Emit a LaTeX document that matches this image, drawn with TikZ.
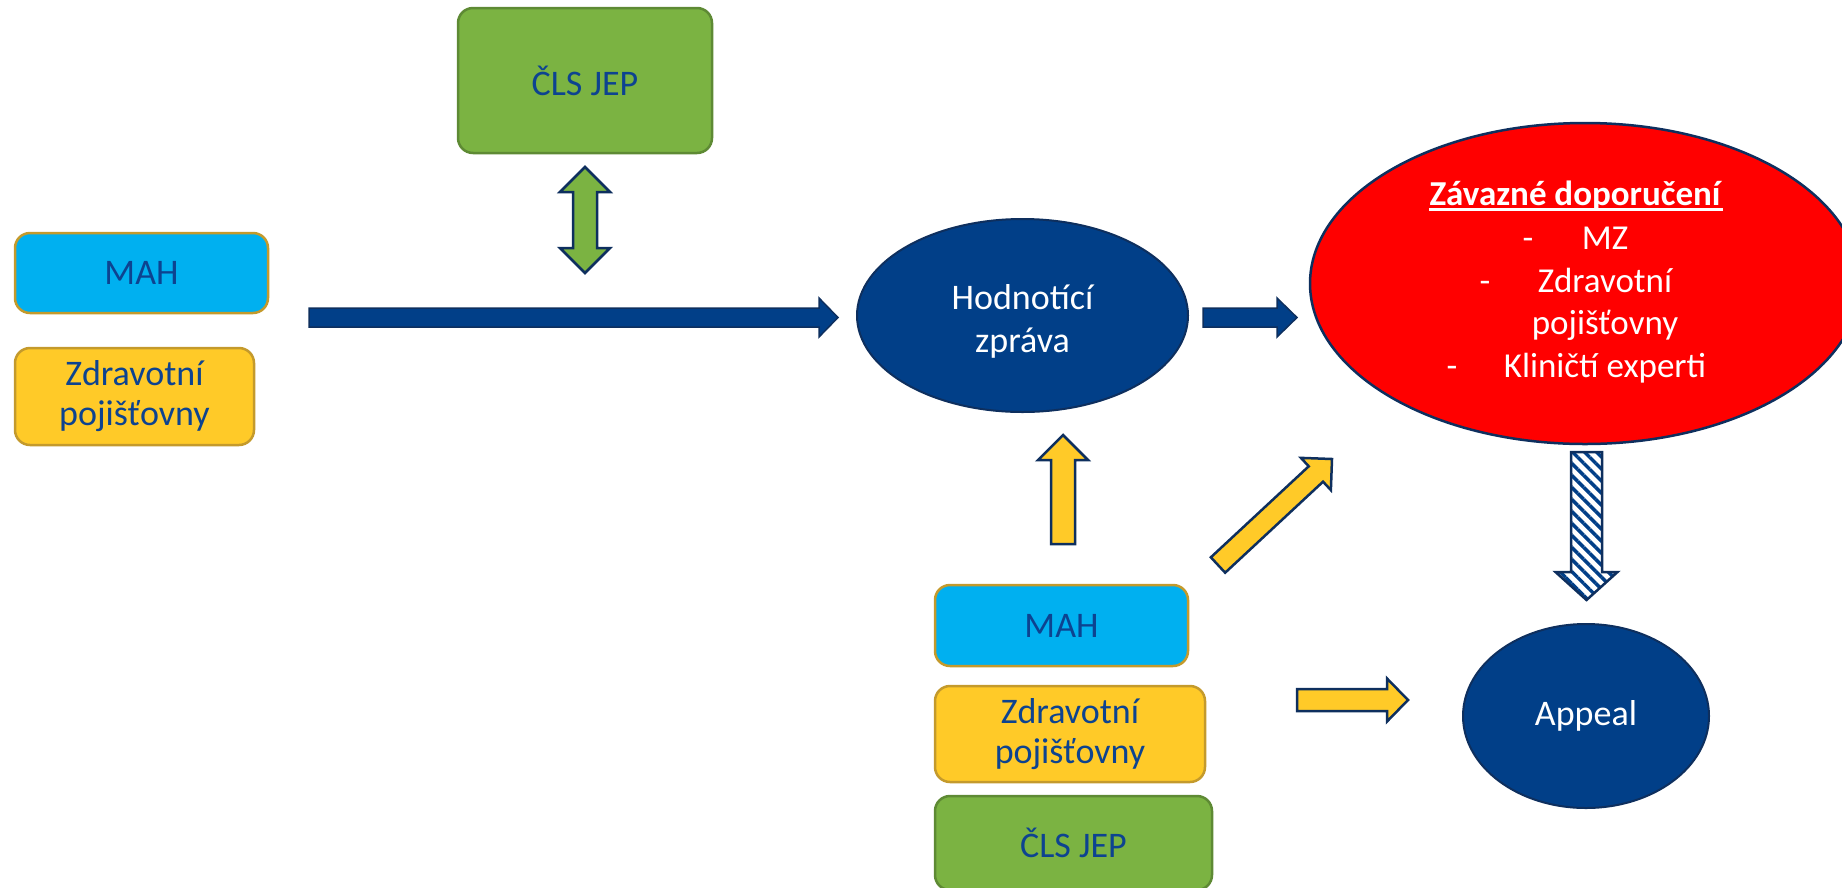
\documentclass[tikz,border=0pt]{standalone}
\usepackage{fontspec}
\setmainfont{Carlito}
\usetikzlibrary{calc,shapes.geometric,patterns.meta}
\definecolor{navyfill}{HTML}{013F88}
\definecolor{navyline}{HTML}{0E2F5E}
\definecolor{boxtext}{HTML}{0D4390}
\definecolor{sky}{HTML}{00B0F0}
\definecolor{yel}{HTML}{FFCA28}
\definecolor{goldb}{HTML}{C49A2C}
\definecolor{grn}{HTML}{7BB342}
\definecolor{grnb}{HTML}{5E8A34}
\definecolor{redfill}{HTML}{FF0000}
% single block arrow: style, start, end, shaft half, head half, head length
\newcommand{\barrow}[6]{%
  \draw[#1] ($(#2)!#4!90:(#3)$) -- ($(#3)!#6!(#2)!#4!-90:(#2)$) -- ($(#3)!#6!(#2)!#5!-90:(#2)$)
   -- (#3) -- ($(#3)!#6!(#2)!#5!90:(#2)$) -- ($(#3)!#6!(#2)!#4!90:(#2)$) -- ($(#2)!#4!-90:(#3)$) -- cycle;}
% double block arrow
\newcommand{\dbarrow}[6]{%
  \draw[#1] (#2) -- ($(#2)!#6!(#3)!#5!90:(#3)$) -- ($(#2)!#6!(#3)!#4!90:(#3)$)
   -- ($(#3)!#6!(#2)!#4!-90:(#2)$) -- ($(#3)!#6!(#2)!#5!-90:(#2)$) -- (#3)
   -- ($(#3)!#6!(#2)!#5!90:(#2)$) -- ($(#3)!#6!(#2)!#4!90:(#2)$)
   -- ($(#2)!#6!(#3)!#4!-90:(#3)$) -- ($(#2)!#6!(#3)!#5!-90:(#3)$) -- cycle;}
\begin{document}
\begin{tikzpicture}[x=1pt,y=-1pt,
  box/.style={rectangle, rounded corners=15pt, inner sep=0pt, line width=2.5pt, text=boxtext,
    align=center, font=\fontsize{36}{40}\selectfont},
  mahbox/.style={box, fill=sky, draw=goldb},
  zpbox/.style={box, fill=yel, draw=goldb},
  clsbox/.style={box, fill=grn, draw=grnb},
  oval/.style={ellipse, inner sep=0pt, fill=navyfill, draw=navyline, line width=2pt, text=white,
    align=center, font=\fontsize{36}{43}\selectfont},
  redoval/.style={ellipse, inner sep=0pt, fill=redfill, draw=navyline, line width=2.5pt},
  wtext/.style={text=white, inner sep=0pt, anchor=base, font=\fontsize{35}{43}\selectfont},
  navyarrow/.style={fill=navyfill, draw=navyline, line width=1.5pt},
  yelarrow/.style={fill=yel, draw=navyline, line width=2.5pt},
  grnarrow/.style={fill=grn, draw=navyline, line width=2.5pt},
  hatcharrow/.style={pattern={Lines[angle=-45,distance=8.5pt,line width=3.5pt]}, pattern color=navyfill,
    draw=navyline, line width=2.5pt}
]
\useasboundingbox (0,0) rectangle (1842,887);

% boxes
\node[clsbox, minimum width=254pt, minimum height=145pt] (clsTop) at (585,80.5) {ČLS JEP};
\node[mahbox, minimum width=253pt, minimum height=80pt] (mahL) at (141.5,273) {MAH};
\node[zpbox, minimum width=239pt, minimum height=97pt] (zpL) at (134.5,396.5) {Zdravotní\\pojišťovny};
\node[mahbox, minimum width=253pt, minimum height=81pt] (mahB) at (1061.5,625.5) {MAH};
\node[zpbox, minimum width=270pt, minimum height=96pt] (zpB) at (1070,734) {Zdravotní\\pojišťovny};
\node[clsbox, minimum width=277pt, minimum height=94pt] (clsB) at (1073.5,843) {ČLS JEP};

% ellipses
\node[oval, minimum width=331pt, minimum height=193pt] (hz) at (1022.5,315.5) {\rule{0pt}{36pt}Hodnotící\\zpráva};
\node[redoval, minimum width=550pt, minimum height=321pt] (zd) at (1585,283.5) {};
\node[oval, minimum width=246pt, minimum height=184pt] (ap) at (1586,716) {Appeal};

% text of the red ellipse
\node[wtext] (zdT) at (1576,205) {\textbf{Závazné doporučení}};
\draw[white, line width=2.5pt] ($(zdT.base west)+(0,4.5)$) -- ($(zdT.base east)+(0,4.5)$);
\node[wtext] (d1) at (1528,249) {-};
\node[wtext] (l1) at (1605,249) {MZ};
\node[wtext] (d2) at (1485,292) {-};
\node[wtext] (l2) at (1605,292) {Zdravotní};
\node[wtext] (l2b) at (1605,334) {pojišťovny};
\node[wtext] (d3) at (1452,377) {-};
\node[wtext] (l3) at (1605,377) {Kliničtí experti};

% arrow end points
\coordinate (a1s) at (309,317.5);   \coordinate (a1e) at (838,317.5);
\coordinate (a2s) at (1203,317.5);  \coordinate (a2e) at (1297,317.5);
\coordinate (g1) at (585,167);      \coordinate (g2) at (585,273);
\coordinate (y1s) at (1063,544);    \coordinate (y1e) at (1063,435);
\coordinate (y2s) at (1218,565);    \coordinate (y2e) at (1332,459);
\coordinate (y3s) at (1297,700);    \coordinate (y3e) at (1408,700);
\coordinate (h1s) at (1586.5,452);  \coordinate (h1e) at (1586.5,600);

\barrow{navyarrow}{a1s}{a1e}{9.5pt}{19.5pt}{19pt}
\barrow{navyarrow}{a2s}{a2e}{9.5pt}{19.5pt}{20pt}
\dbarrow{grnarrow}{g1}{g2}{12pt}{25pt}{25pt}
\barrow{yelarrow}{y1s}{y1e}{12pt}{25pt}{25pt}
\barrow{yelarrow}{y2s}{y2e}{10.5pt}{22pt}{22pt}
\barrow{yelarrow}{y3s}{y3e}{11pt}{21.5pt}{21pt}
\barrow{hatcharrow}{h1s}{h1e}{15.5pt}{31pt}{28pt}
\end{tikzpicture}
\end{document}
